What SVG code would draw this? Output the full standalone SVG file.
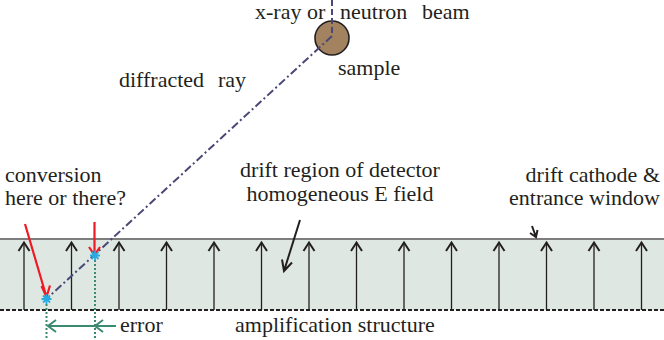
<svg xmlns="http://www.w3.org/2000/svg" width="664" height="340" viewBox="0 0 664 340">
<style>
.t{font-family:'Liberation Serif','DejaVu Serif',serif;font-size:22px;fill:#231f20}
.fa{stroke:#231f20;stroke-width:1.3;fill:none}
.fh{stroke:#231f20;stroke-width:2;fill:none}
.beam{stroke:#4a4876;stroke-width:2;fill:none}
.red{stroke:#ed1c24;stroke-width:2.2;fill:none}
.dot{stroke:#3a8a72;stroke-width:2;fill:none;stroke-dasharray:2 2}
.grn{stroke:#3a8a72;stroke-width:2;fill:none}
.star{stroke:#29abe2;stroke-width:1.8}
.ptr{stroke:#231f20;stroke-width:2;fill:none}
</style>
<defs>
<g id="fld"><path class="fa" d="M0,310V242"/><path class="fh" d="M-5.5,251L0,242.5L5.5,251"/></g>
<g id="st"><path class="star" d="M-5,0H5M0,-5V5M-3.5,-3.5L3.5,3.5M-3.5,3.5L3.5,-3.5"/></g>
</defs>

<g id="detector">
<rect x="0" y="239" width="664" height="71" fill="#dfe7e3"/>
<line x1="0" y1="239" x2="664" y2="239" stroke="#7d7d7d" stroke-width="2"/>
<line x1="0" y1="310" x2="664" y2="310" stroke="#231f20" stroke-width="2" stroke-dasharray="4 2"/>
</g>

<g id="field-lines">
<use href="#fld" x="24"/><use href="#fld" x="71.5"/><use href="#fld" x="119"/><use href="#fld" x="166.5"/>
<use href="#fld" x="214"/><use href="#fld" x="261.5"/><use href="#fld" x="309"/><use href="#fld" x="356.5"/>
<use href="#fld" x="404"/><use href="#fld" x="451.5"/><use href="#fld" x="499"/><use href="#fld" x="546.5"/>
<use href="#fld" x="594"/><use href="#fld" x="641.5"/>
</g>

<g id="sample">
<circle cx="332" cy="38" r="17" fill="#a3835f" stroke="#231f20" stroke-width="1.6"/>
<text class="t" font-family="Liberation Serif, DejaVu Serif, serif" x="338" y="75">sample</text>
</g>

<g id="connectors">
<line class="beam" x1="332" y1="0" x2="332" y2="36" stroke-dasharray="6 3"/>
<line class="beam" x1="332" y1="36" x2="46.5" y2="299" stroke-dasharray="8 3 2 3"/>
<path class="red" d="M25,224L46.5,297M41.5,286L46.5,297L50,285.5"/>
<path class="red" d="M94.5,222V254M89,247L94.5,255L100,247"/>
<line class="dot" x1="46.5" y1="304" x2="46.5" y2="340"/>
<line class="dot" x1="95" y1="260" x2="95" y2="340"/>
<path class="grn" d="M48,326H116M56,320L48,326L56,332M103,320L95,326L103,332"/>
<path class="ptr" d="M300,220L284,271M282,259.5L284,271L292,262.5"/>
<path class="ptr" d="M532,226L536,237M530,233L536,237L537.5,230"/>
</g>

<g id="stars">
<use href="#st" x="46.5" y="299"/>
<use href="#st" x="95" y="255.5"/>
</g>

<g id="labels" font-family="Liberation Serif, DejaVu Serif, serif">
<text class="t" y="19"><tspan x="255">x-ray or</tspan><tspan x="340">neutron</tspan><tspan x="422">beam</tspan></text>
<text class="t" y="87"><tspan x="119">diffracted</tspan><tspan x="218">ray</tspan></text>
<text class="t" x="5" y="182">conversion</text>
<text class="t" x="5" y="205">here or there?</text>
<text class="t" x="340" y="177" text-anchor="middle">drift region of detector</text>
<text class="t" x="340" y="201" text-anchor="middle">homogeneous E field</text>
<text class="t" x="660" y="182" text-anchor="end">drift cathode &amp;</text>
<text class="t" x="660" y="205" text-anchor="end">entrance window</text>
<text class="t" x="120" y="332">error</text>
<text class="t" x="235" y="332">amplification structure</text>
</g>
</svg>
